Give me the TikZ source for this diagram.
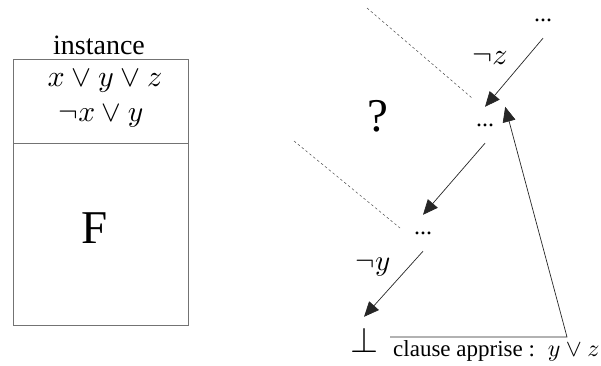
\documentclass[tikz,border=0pt]{standalone}
\usepackage{graphicx}
\usepackage{fontspec}
\setmainfont{Liberation Serif}
\usetikzlibrary{arrows.meta}
\newcommand{\scmath}[2]{\scalebox{#1}{\fontsize{10}{12}\selectfont$#2$}}
\tikzset{
  txt/.style={inner sep=0pt, anchor=center},
  dots/.style={inner sep=0pt, minimum width=40pt, minimum height=36pt, font=\fontsize{24}{24}\selectfont},
  arr/.style={draw=black!85, line width=0.7pt, -{Triangle[length=15pt,width=13pt]}},
  dotted line/.style={draw=black!70, line width=0.5pt, dash pattern=on 2.5pt off 2.5pt},
  boxline/.style={draw=black!55, line width=0.9pt}
}
\begin{document}
\begin{tikzpicture}[x=1pt,y=-1pt]
\useasboundingbox (0,0) rectangle (601,365);
% left box
\node[txt, font=\fontsize{28}{28}\selectfont] (inst) at (99,45) {instance};
\draw[boxline] (13,59) rectangle (188,325);
\draw[boxline] (13,143) -- (188,143);
\node[txt] (c1) at (105,81) {\scmath{3}{x\vee y\vee z}};
\node[txt] (c2) at (101,116) {\scmath{2.95}{\neg x\vee y}};
\node[txt, font=\fontsize{47}{47}\selectfont] (F) at (95,228) {F};
% right tree
\node[dots] (n1) at (543,20) {...};
\node[dots] (n2) at (485,125) {...};
\node[dots] (n3) at (423,233) {...};
\node[txt, minimum height=46pt, minimum width=52pt] (bot) at (364,340) {\scmath{3.6}{\bot}};
\node[txt] (lz) at (490,58) {\scmath{3}{\neg z}};
\node[txt] (ly) at (373,267) {\scmath{2.9}{\neg y}};
\node[txt, font=\fontsize{47}{47}\selectfont] (q) at (378,116) {?};
\node[txt, anchor=base west, font=\fontsize{23}{24}\selectfont] (cl) at (393,356) {clause apprise :\hspace{13pt}\scmath{2.4}{y\vee z}};
\coordinate (corner) at (567,337);
\draw[arr] (n1.south) -- (n2.north);
\draw[arr] (n2.south) -- (n3.north);
\draw[arr] (n3.south) -- (bot.north);
\draw[arr] (bot.east |- corner) -- (corner) -- (n2.north east);
\draw[dotted line] (367,8) -- (472,98);
\draw[dotted line] (294,141) -- (400,228);
\end{tikzpicture}
\end{document}
